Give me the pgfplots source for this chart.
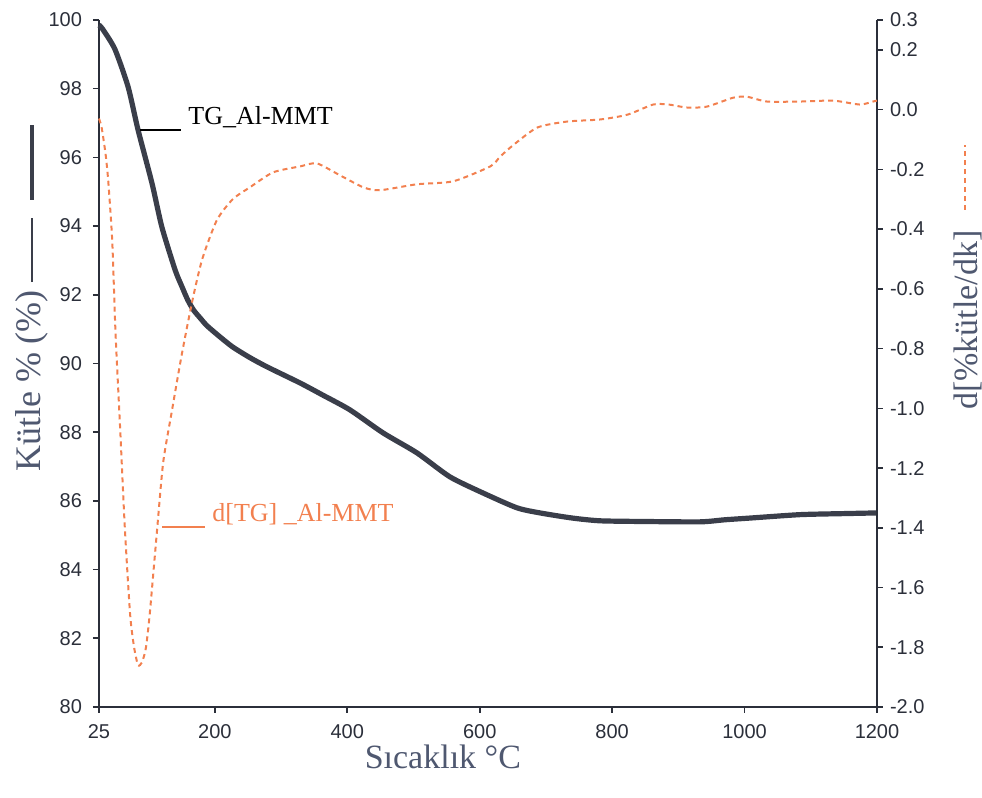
\documentclass[border=0pt]{standalone}
\usepackage{pgfplots}
\pgfplotsset{compat=1.18}
\usepackage{fontspec}
\setmainfont{Liberation Serif}
\newfontfamily\ticksf{Liberation Sans}
\definecolor{axcol}{HTML}{2B2F3A}
\definecolor{tgcol}{HTML}{3A3E4A}
\definecolor{dtgcol}{HTML}{F2804F}
\definecolor{labcol}{HTML}{4F5870}
\pgfplotsset{common/.style={
  at={(0,0)}, anchor=south west, scale only axis,
  width=389pt, height=343.5pt,
  xmin=25, xmax=1200, clip=false,
  tick align=outside, major tick length=3pt,
  axis line style={axcol, line width=1pt, -},
  tick style={axcol, line width=0.8pt},
  tick label style={font=\ticksf\fontsize{10}{12}\selectfont, text=axcol},
  /pgf/number format/assume math mode=true,
  /pgf/number format/1000 sep={},
}}
\begin{document}
\begin{tikzpicture}
\begin{axis}[common,
  axis x line*=bottom, axis y line*=left,
  ymin=80, ymax=100, ytick={80,82,...,100},
  xtick={25,200,400,600,800,1000,1200},
  yticklabel style={xshift=-2pt},
  xticklabel style={yshift=-2pt},
]
\addplot[tgcol, line width=2.6pt, smooth, tension=0.4] coordinates {
(25,99.85) (30,99.75) (49,99.15) (69,98.05) (84,96.8) (105,95.25) (120,93.97)
(140,92.72) (150,92.25) (159,91.85) (168,91.55) (178,91.32) (188,91.1)
(208,90.77) (227,90.48) (253,90.17)
(279,89.9) (329,89.43) (363,89.08) (404,88.65) (454,87.98) (505,87.4)
(555,86.7) (605,86.23) (656,85.8) (691,85.65) (740,85.5) (782,85.42)
(850,85.40) (933,85.39) (970,85.45) (1008,85.5) (1084,85.6) (1150,85.63) (1200,85.65)
};
\end{axis}
\begin{axis}[common,
  axis y line*=right, axis x line=none,
  ymin=-2.0, ymax=0.3,
  ytick={-2.0,-1.8,-1.6,-1.4,-1.2,-1.0,-0.8,-0.6,-0.4,-0.2,0.0,0.2,0.3},
  yticklabel style={/pgf/number format/.cd, fixed, fixed zerofill, precision=1},
]
\addplot[dtgcol, line width=1pt, dash pattern=on 2.5pt off 2pt, smooth, tension=0.4] coordinates {
(25,-0.03) (29,-0.06) (35,-0.15) (39,-0.24) (45,-0.44) (50,-0.75) (57,-1.07)
(64,-1.40) (72,-1.69) (78,-1.80) (84,-1.86) (90,-1.85) (96,-1.80) (102,-1.68)
(113,-1.40) (122,-1.18) (135,-1.01) (150,-0.82) (166,-0.64) (181,-0.50)
(203,-0.37) (227,-0.30) (253,-0.26) (288,-0.21) (329,-0.19) (354,-0.18)
(389,-0.22) (424,-0.26) (449,-0.27) (505,-0.25) (560,-0.24) (616,-0.19)
(631,-0.157) (650,-0.12) (687,-0.06) (732,-0.04) (782,-0.033) (823,-0.017)
(862,0.017) (885,0.017) (913,0.007) (943,0.01) (983,0.04) (1004,0.043)
(1034,0.027) (1084,0.027) (1134,0.03) (1174,0.017) (1194,0.027) (1200,0.03)
};
% axis labels
\node[rotate=90, font=\fontsize{18}{21}\selectfont, text=labcol] at (axis description cs:-0.0861,0.4745) {Kütle \% (\%)};
\draw[tgcol, line width=0.7pt] (axis description cs:-0.0861,0.6186) -- (axis description cs:-0.0861,0.7118);
\draw[tgcol, line width=2.2pt] (axis description cs:-0.0861,0.738) -- (axis description cs:-0.0861,0.847);
\node[rotate=90, font=\fontsize{17}{20}\selectfont, text=labcol] at (axis description cs:1.117,0.5633) {d[\%kütle/dk]};
\draw[dtgcol, dash pattern=on 2.5pt off 2pt, line width=1pt] (axis description cs:1.113,0.724) -- (axis description cs:1.113,0.818);
\node[font=\fontsize{17}{20}\selectfont, text=labcol] at (axis description cs:0.442,-0.072) {Sıcaklık °C};
% curve annotations
\draw[black, line width=0.8pt] (axis description cs:0.0527,0.8399) -- (axis description cs:0.1054,0.8399);
\node[anchor=base west, inner sep=0pt, font=\fontsize{13}{15}\selectfont, text=black] at (axis description cs:0.1144,0.8472) {TG\_Al-MMT};
\draw[dtgcol, line width=0.8pt] (axis description cs:0.0810,0.262) -- (axis description cs:0.1362,0.262);
\node[anchor=base west, inner sep=0pt, font=\fontsize{13}{15}\selectfont, text=dtgcol] at (axis description cs:0.1452,0.2707) {d[TG] \_Al-MMT};
\end{axis}
\pgfresetboundingbox
\path (-49.5pt,-45.5pt) rectangle (441.5pt,353.5pt);
\end{tikzpicture}
\end{document}
